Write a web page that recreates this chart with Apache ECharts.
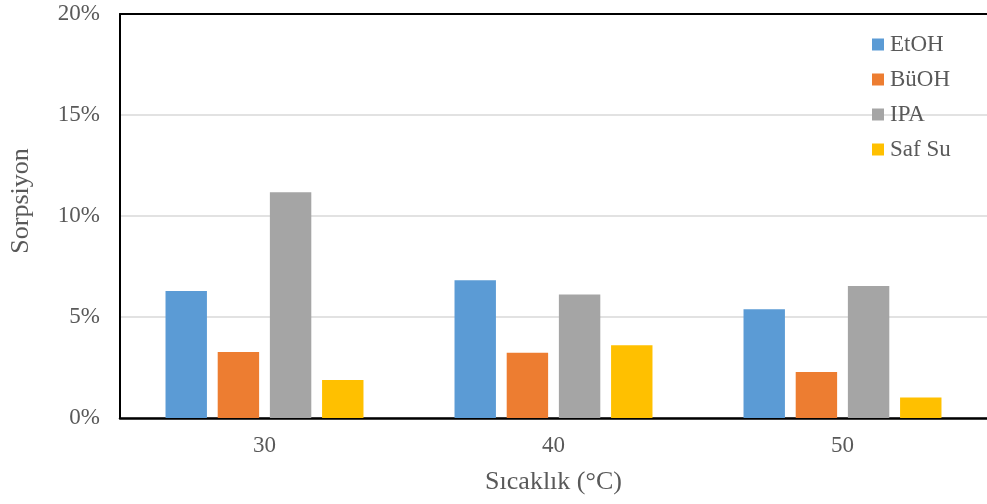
<!DOCTYPE html>
<html>
<head>
<meta charset="utf-8">
<script src="https://cdn.jsdelivr.net/npm/echarts@6/dist/echarts.min.js"></script>
<style>html,body{margin:0;padding:0;background:#fff;}#c{width:987px;height:504px;}</style>
</head>
<body>
<div id="c"></div>
<script>
const categories = ['30', '40', '50'];
const seriesNames = ['EtOH', 'BüOH', 'IPA', 'Saf Su'];
const etoh = [6.29, 6.82, 5.38];
const buoh = [3.27, 3.23, 2.28];
const ipa = [11.17, 6.12, 6.53];
const safSu = [1.88, 3.60, 1.02];
const yTicks = [0, 5, 10, 15, 20];
const colors = ['#5B9BD5', '#ED7D31', '#A5A5A5', '#FFC000'];

const font = 'Liberation Serif, Times New Roman, serif';
const values = [etoh, buoh, ipa, safSu];
const chart = echarts.init(document.getElementById('c'), null, {renderer: 'canvas'});
chart.setOption({
  animation: false,
  textStyle: {fontFamily: font},
  grid: {left: 120, top: 14, width: 871, height: 404, containLabel: false},
  legend: {
    orient: 'vertical', left: 872, top: 33, padding: 0,
    itemWidth: 12, itemHeight: 12, itemGap: 12, itemStyle: {borderWidth: 0},
    icon: 'rect',
    textStyle: {fontFamily: font, fontSize: 23, color: '#595959', lineHeight: 23, padding: [0, 0, 0, 1]},
    data: seriesNames
  },
  xAxis: [{
    type: 'category', data: categories, position: 'bottom',
    axisLine: {show: true, lineStyle: {color: '#000', width: 2.5}},
    axisTick: {show: false},
    axisLabel: {fontFamily: font, fontSize: 23, color: '#595959', margin: 16},
    name: 'Sıcaklık (°C)', nameLocation: 'middle', nameGap: 51,
    nameTextStyle: {fontFamily: font, fontSize: 26, color: '#595959'}
  }, {
    type: 'category', data: categories, position: 'top',
    axisLine: {show: true, lineStyle: {color: '#000', width: 2}},
    axisTick: {show: false}, axisLabel: {show: false}
  }],
  yAxis: {
    type: 'value', min: yTicks[0], max: yTicks[yTicks.length - 1], interval: 5,
    axisLine: {show: true, lineStyle: {color: '#000', width: 2}},
    axisTick: {show: false},
    axisLabel: {fontFamily: font, fontSize: 23, color: '#595959', margin: 20, formatter: v => v + '%'},
    splitLine: {lineStyle: {color: '#D9D9D9', width: 1.5}},
    name: 'Sorpsiyon', nameLocation: 'middle', nameGap: 86,
    nameTextStyle: {fontFamily: font, fontSize: 26, color: '#595959', padding: [0, 0, 0, 30]}
  },
  series: seriesNames.map((n, i) => ({
    name: n, type: 'bar', data: values[i], xAxisIndex: 0,
    barCategoryGap: '31.5%', barGap: '26%',
    itemStyle: {color: colors[i]}
  }))
});
</script>
</body>
</html>
